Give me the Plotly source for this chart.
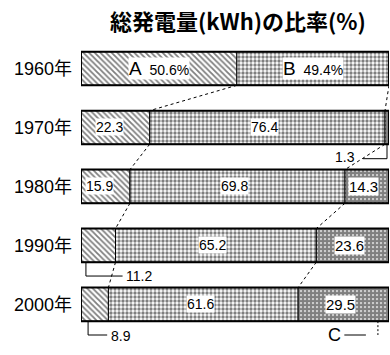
import plotly.graph_objects as go

years = ["1960年", "1970年", "1980年", "1990年", "2000年"]
a_vals = [50.6, 22.3, 15.9, 11.2, 8.9]
b_vals = [49.4, 76.4, 69.8, 65.2, 61.6]
c_vals = [0.0, 1.3, 14.3, 23.6, 29.5]
title_text = "総発電量(kWh)の比率(%)"

n = len(years)
ab = [a + b for a, b in zip(a_vals, b_vals)]
tot = [a + b + c for a, b, c in zip(a_vals, b_vals, c_vals)]

BARGAP = 0.43
HALF = (1 - BARGAP) / 2
NUMFONT = "Liberation Sans"
JPFONT = "Noto Sans CJK JP"

fig = go.Figure()
fig.add_trace(go.Bar(
    y=years, x=a_vals, base=[0] * n, orientation="h",
    marker=dict(color="white", line=dict(color="black", width=1),
                pattern=dict(shape="\\", size=4, solidity=0.45, fgcolor="black", bgcolor="white")),
    hoverinfo="skip"))
fig.add_trace(go.Bar(
    y=years, x=b_vals, base=a_vals, orientation="h",
    marker=dict(color="white", line=dict(color="black", width=1),
                pattern=dict(shape=".", size=4, solidity=0.55, fgcolor="black", bgcolor="white")),
    hoverinfo="skip"))
fig.add_trace(go.Bar(
    y=years, x=c_vals, base=ab, orientation="h",
    marker=dict(color="white", line=dict(color="black", width=1),
                pattern=dict(shape=".", size=4, solidity=0.8, fgcolor="black", bgcolor="white")),
    hoverinfo="skip"))
fig.add_trace(go.Bar(
    y=years, x=tot, base=[0] * n, orientation="h",
    marker=dict(color="rgba(0,0,0,0)", line=dict(color="black", width=2)),
    hoverinfo="skip"))

shapes = []
# dashed connectors between bars
for i in range(n - 1):
    for arr in (a_vals, ab):
        shapes.append(dict(type="line", xref="x", yref="y",
                           x0=arr[i], y0=i + HALF, x1=arr[i + 1], y1=i + 1 - HALF,
                           line=dict(color="black", width=1, dash="3px,3px")))

annotations = []
def lab(x, y, text, size=13, **kw):
    annotations.append(dict(x=x, y=y, xref="x", yref="y", text=text, showarrow=False,
                            font=dict(family=NUMFONT, size=size, color="black"),
                            bgcolor="white", borderpad=0, **kw))

for i in range(n):
    a, b, c = a_vals[i], b_vals[i], c_vals[i]
    if i == 0:
        lab(a / 2, i, "<span style='font-size:19px'>A</span>  %.1f%%" % a, size=14)
        lab(a + b / 2, i, "<span style='font-size:19px'>B</span>  %.1f%%" % b, size=14)
        continue
    if a >= 15:
        lab(a / 2 - 2, i, "%.1f" % a, size=14)
    lab(a + b / 2 - 1, i, "%.1f" % b, size=14)
    if c >= 10:
        lab(ab[i] + c / 2 - 1, i, "%.1f" % c, size=15)

# callouts for small values
# 1970 C
i = 1
xc = ab[i] + c_vals[i] / 2
shapes.append(dict(type="path", xref="x", yref="y",
                   path="M %f %f L %f %f L %f %f" % (xc, i + HALF, xc, i + 0.53, 91.5, i + 0.53),
                   line=dict(color="black", width=1)))
annotations.append(dict(x=89.5, y=i + 0.5, xref="x", yref="y", text="%.1f" % c_vals[i],
                        showarrow=False, xanchor="right",
                        font=dict(family=NUMFONT, size=14, color="black")))
# 1990 A
i = 3
shapes.append(dict(type="path", xref="x", yref="y",
                   path="M %f %f L %f %f L %f %f" % (1.6, i + HALF, 1.6, i + 0.52, 13.5, i + 0.52),
                   line=dict(color="black", width=1)))
annotations.append(dict(x=14, y=i + 0.52, xref="x", yref="y", text="%.1f" % a_vals[i],
                        showarrow=False, xanchor="left",
                        font=dict(family=NUMFONT, size=14, color="black")))
# 2000 A
i = 4
shapes.append(dict(type="path", xref="x", yref="y",
                   path="M %f %f L %f %f L %f %f" % (2.3, i + HALF, 2.3, i + 0.52, 8.5, i + 0.52),
                   line=dict(color="black", width=1)))
annotations.append(dict(x=9, y=i + 0.54, xref="x", yref="y", text="%.1f" % a_vals[i],
                        showarrow=False, xanchor="left",
                        font=dict(family=NUMFONT, size=14, color="black")))
# 2000 C label
shapes.append(dict(type="line", xref="x", yref="y", x0=96.4, y0=i + HALF, x1=96.4, y1=i + 0.52,
                   line=dict(color="black", width=1, dash="2px,2px")))
shapes.append(dict(type="line", xref="x", yref="y", x0=85.5, y0=i + 0.52, x1=92.5, y1=i + 0.52,
                   line=dict(color="black", width=1)))
annotations.append(dict(x=85, y=i + 0.52, xref="x", yref="y", text="C",
                        showarrow=False, xanchor="right",
                        font=dict(family=NUMFONT, size=18, color="black")))

fig.update_layout(
    width=390, height=355,
    margin=dict(l=81, r=1, t=39, b=8, autoexpand=False),
    paper_bgcolor="white", plot_bgcolor="white",
    barmode="overlay", bargap=BARGAP,
    showlegend=False,
    title=dict(text="<b>" + title_text + "</b>", x=0.61, xanchor="center", y=0.937, yanchor="middle",
               font=dict(family=JPFONT, size=22, color="black")),
    xaxis=dict(range=[0, 100], visible=False, fixedrange=True, automargin=False),
    yaxis=dict(autorange="reversed", showgrid=False, zeroline=False, showline=False,
               ticks="", ticklabelstandoff=8, automargin=False, fixedrange=True,
               tickfont=dict(family="Liberation Sans, Noto Sans CJK JP", size=18, color="black")),
    shapes=shapes, annotations=annotations,
)

fig.write_html("out.html", config={"displayModeBar": False, "staticPlot": True},
               post_script="document.body.style.margin='0';document.body.style.overflow='hidden';")
